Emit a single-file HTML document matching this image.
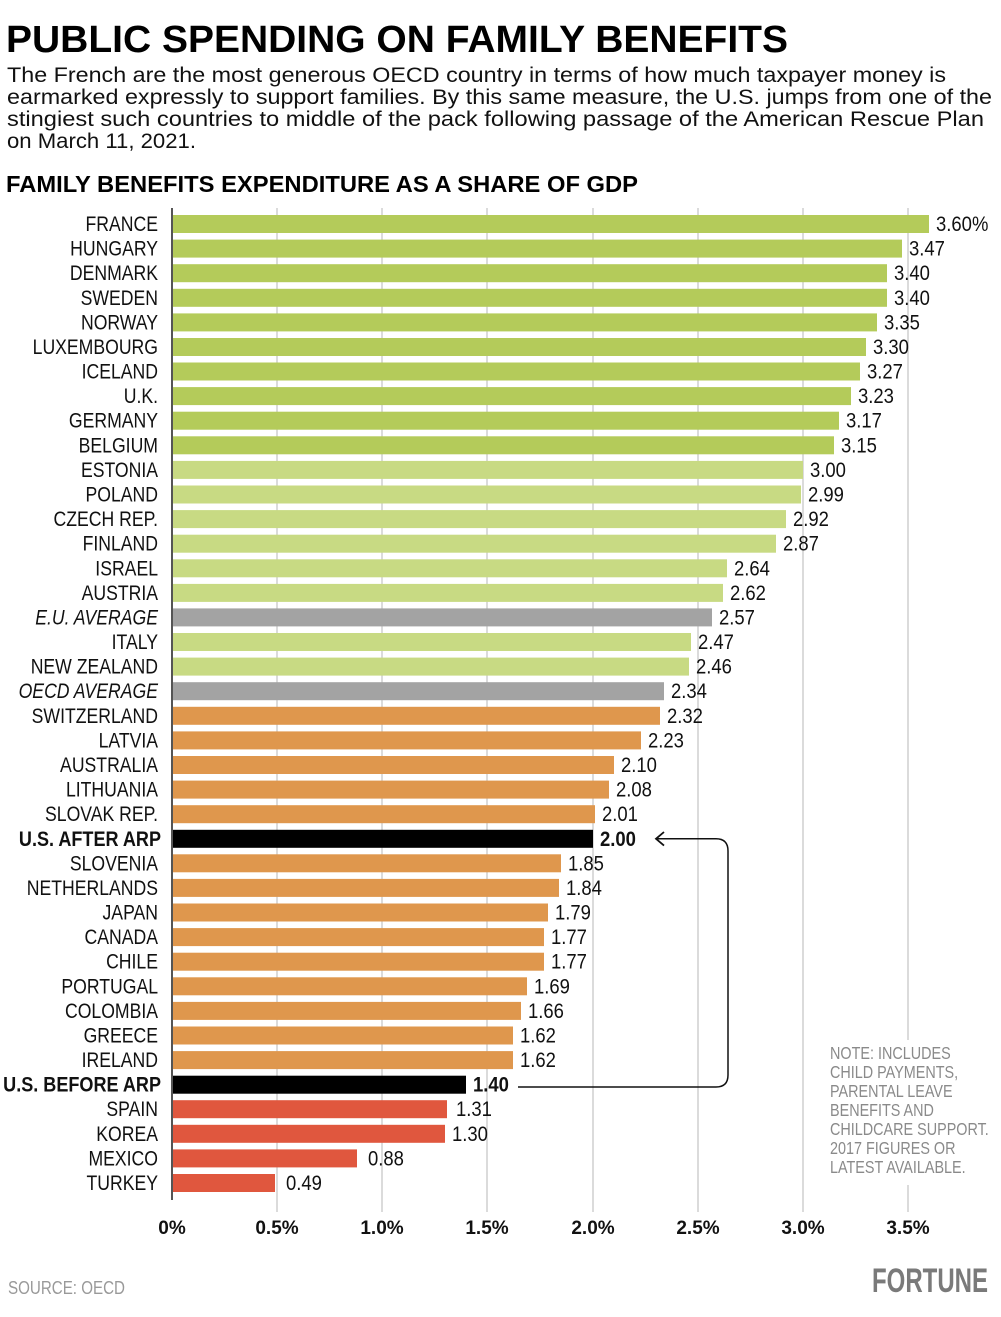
<!DOCTYPE html>
<html><head><meta charset="utf-8"><style>
body{margin:0;background:#fff}
svg{display:block}
.l{font-family:"Liberation Sans",sans-serif;font-size:21px;fill:#111;text-anchor:end}
.v{font-family:"Liberation Sans",sans-serif;font-size:21px;fill:#111}
.it{font-style:italic}
.b{font-weight:bold}
.dg{fill:#b4cb5a}.lg{fill:#c8da83}.gr{fill:#a3a3a3}.or{fill:#df974d}.bk{fill:#000}.rd{fill:#e0573e}
</style></head><body>
<svg width="1001" height="1317" viewBox="0 0 1001 1317" xmlns="http://www.w3.org/2000/svg">
<text x="6" y="52" font-family="Liberation Sans" font-weight="bold" font-size="38" textLength="782" lengthAdjust="spacingAndGlyphs">PUBLIC SPENDING ON FAMILY BENEFITS</text>
<g font-family="Liberation Sans" font-size="21" fill="#111">
<text x="7" y="82" textLength="939" lengthAdjust="spacingAndGlyphs">The French are the most generous OECD country in terms of how much taxpayer money is</text>
<text x="7" y="104" textLength="985" lengthAdjust="spacingAndGlyphs">earmarked expressly to support families. By this same measure, the U.S. jumps from one of the</text>
<text x="7" y="126" textLength="977" lengthAdjust="spacingAndGlyphs">stingiest such countries to middle of the pack following passage of the American Rescue Plan</text>
<text x="7" y="148" textLength="189" lengthAdjust="spacingAndGlyphs">on March 11, 2021.</text>
</g>
<text x="6" y="192" font-family="Liberation Sans" font-weight="bold" font-size="23" textLength="632" lengthAdjust="spacingAndGlyphs">FAMILY BENEFITS EXPENDITURE AS A SHARE OF GDP</text>
<g stroke="#cfcfcf" stroke-width="1.5">
<line x1="277" y1="208" x2="277" y2="1212"/><line x1="382" y1="208" x2="382" y2="1212"/><line x1="487" y1="208" x2="487" y2="1212"/><line x1="593" y1="208" x2="593" y2="1212"/><line x1="698" y1="208" x2="698" y2="1212"/><line x1="803" y1="208" x2="803" y2="1212"/><line x1="908" y1="208" x2="908" y2="1040"/><line x1="908" y1="1185" x2="908" y2="1212"/>
</g>
<g>
<g transform="translate(0,224)"><rect x="172" y="-9" width="757" height="18" class="dg"/><text transform="translate(158 7) scale(0.84 1)" class="l">FRANCE</text><text transform="translate(936 7) scale(0.88 1)" class="v">3.60%</text></g>
<g transform="translate(0,248.6)"><rect x="172" y="-9" width="730" height="18" class="dg"/><text transform="translate(158 7) scale(0.84 1)" class="l">HUNGARY</text><text transform="translate(909 7) scale(0.88 1)" class="v">3.47</text></g>
<g transform="translate(0,273.2)"><rect x="172" y="-9" width="715" height="18" class="dg"/><text transform="translate(158 7) scale(0.84 1)" class="l">DENMARK</text><text transform="translate(894 7) scale(0.88 1)" class="v">3.40</text></g>
<g transform="translate(0,297.8)"><rect x="172" y="-9" width="715" height="18" class="dg"/><text transform="translate(158 7) scale(0.84 1)" class="l">SWEDEN</text><text transform="translate(894 7) scale(0.88 1)" class="v">3.40</text></g>
<g transform="translate(0,322.4)"><rect x="172" y="-9" width="705" height="18" class="dg"/><text transform="translate(158 7) scale(0.84 1)" class="l">NORWAY</text><text transform="translate(884 7) scale(0.88 1)" class="v">3.35</text></g>
<g transform="translate(0,347)"><rect x="172" y="-9" width="694" height="18" class="dg"/><text transform="translate(158 7) scale(0.84 1)" class="l">LUXEMBOURG</text><text transform="translate(873 7) scale(0.88 1)" class="v">3.30</text></g>
<g transform="translate(0,371.5)"><rect x="172" y="-9" width="688" height="18" class="dg"/><text transform="translate(158 7) scale(0.84 1)" class="l">ICELAND</text><text transform="translate(867 7) scale(0.88 1)" class="v">3.27</text></g>
<g transform="translate(0,396.1)"><rect x="172" y="-9" width="679" height="18" class="dg"/><text transform="translate(158 7) scale(0.84 1)" class="l">U.K.</text><text transform="translate(858 7) scale(0.88 1)" class="v">3.23</text></g>
<g transform="translate(0,420.7)"><rect x="172" y="-9" width="667" height="18" class="dg"/><text transform="translate(158 7) scale(0.84 1)" class="l">GERMANY</text><text transform="translate(846 7) scale(0.88 1)" class="v">3.17</text></g>
<g transform="translate(0,445.3)"><rect x="172" y="-9" width="662" height="18" class="dg"/><text transform="translate(158 7) scale(0.84 1)" class="l">BELGIUM</text><text transform="translate(841 7) scale(0.88 1)" class="v">3.15</text></g>
<g transform="translate(0,469.9)"><rect x="172" y="-9" width="631" height="18" class="lg"/><text transform="translate(158 7) scale(0.84 1)" class="l">ESTONIA</text><text transform="translate(810 7) scale(0.88 1)" class="v">3.00</text></g>
<g transform="translate(0,494.5)"><rect x="172" y="-9" width="629" height="18" class="lg"/><text transform="translate(158 7) scale(0.84 1)" class="l">POLAND</text><text transform="translate(808 7) scale(0.88 1)" class="v">2.99</text></g>
<g transform="translate(0,519.1)"><rect x="172" y="-9" width="614" height="18" class="lg"/><text transform="translate(158 7) scale(0.84 1)" class="l">CZECH REP.</text><text transform="translate(793 7) scale(0.88 1)" class="v">2.92</text></g>
<g transform="translate(0,543.7)"><rect x="172" y="-9" width="604" height="18" class="lg"/><text transform="translate(158 7) scale(0.84 1)" class="l">FINLAND</text><text transform="translate(783 7) scale(0.88 1)" class="v">2.87</text></g>
<g transform="translate(0,568.3)"><rect x="172" y="-9" width="555" height="18" class="lg"/><text transform="translate(158 7) scale(0.84 1)" class="l">ISRAEL</text><text transform="translate(734 7) scale(0.88 1)" class="v">2.64</text></g>
<g transform="translate(0,592.9)"><rect x="172" y="-9" width="551" height="18" class="lg"/><text transform="translate(158 7) scale(0.84 1)" class="l">AUSTRIA</text><text transform="translate(730 7) scale(0.88 1)" class="v">2.62</text></g>
<g transform="translate(0,617.4)"><rect x="172" y="-9" width="540" height="18" class="gr"/><text transform="translate(158 7) scale(0.84 1)" class="l it">E.U. AVERAGE</text><text transform="translate(719 7) scale(0.88 1)" class="v">2.57</text></g>
<g transform="translate(0,642)"><rect x="172" y="-9" width="519" height="18" class="lg"/><text transform="translate(158 7) scale(0.84 1)" class="l">ITALY</text><text transform="translate(698 7) scale(0.88 1)" class="v">2.47</text></g>
<g transform="translate(0,666.6)"><rect x="172" y="-9" width="517" height="18" class="lg"/><text transform="translate(158 7) scale(0.84 1)" class="l">NEW ZEALAND</text><text transform="translate(696 7) scale(0.88 1)" class="v">2.46</text></g>
<g transform="translate(0,691.2)"><rect x="172" y="-9" width="492" height="18" class="gr"/><text transform="translate(158 7) scale(0.84 1)" class="l it">OECD AVERAGE</text><text transform="translate(671 7) scale(0.88 1)" class="v">2.34</text></g>
<g transform="translate(0,715.8)"><rect x="172" y="-9" width="488" height="18" class="or"/><text transform="translate(158 7) scale(0.84 1)" class="l">SWITZERLAND</text><text transform="translate(667 7) scale(0.88 1)" class="v">2.32</text></g>
<g transform="translate(0,740.4)"><rect x="172" y="-9" width="469" height="18" class="or"/><text transform="translate(158 7) scale(0.84 1)" class="l">LATVIA</text><text transform="translate(648 7) scale(0.88 1)" class="v">2.23</text></g>
<g transform="translate(0,765)"><rect x="172" y="-9" width="442" height="18" class="or"/><text transform="translate(158 7) scale(0.84 1)" class="l">AUSTRALIA</text><text transform="translate(621 7) scale(0.88 1)" class="v">2.10</text></g>
<g transform="translate(0,789.6)"><rect x="172" y="-9" width="437" height="18" class="or"/><text transform="translate(158 7) scale(0.84 1)" class="l">LITHUANIA</text><text transform="translate(616 7) scale(0.88 1)" class="v">2.08</text></g>
<g transform="translate(0,814.2)"><rect x="172" y="-9" width="423" height="18" class="or"/><text transform="translate(158 7) scale(0.84 1)" class="l">SLOVAK REP.</text><text transform="translate(602 7) scale(0.88 1)" class="v">2.01</text></g>
<g transform="translate(0,838.8)"><rect x="172" y="-9" width="421" height="18" class="bk"/><text transform="translate(161 7) scale(0.86 1)" class="l b">U.S. AFTER ARP</text><text transform="translate(600 7) scale(0.88 1)" class="v b">2.00</text></g>
<g transform="translate(0,863.3)"><rect x="172" y="-9" width="389" height="18" class="or"/><text transform="translate(158 7) scale(0.84 1)" class="l">SLOVENIA</text><text transform="translate(568 7) scale(0.88 1)" class="v">1.85</text></g>
<g transform="translate(0,887.9)"><rect x="172" y="-9" width="387" height="18" class="or"/><text transform="translate(158 7) scale(0.84 1)" class="l">NETHERLANDS</text><text transform="translate(566 7) scale(0.88 1)" class="v">1.84</text></g>
<g transform="translate(0,912.5)"><rect x="172" y="-9" width="376" height="18" class="or"/><text transform="translate(158 7) scale(0.84 1)" class="l">JAPAN</text><text transform="translate(555 7) scale(0.88 1)" class="v">1.79</text></g>
<g transform="translate(0,937.1)"><rect x="172" y="-9" width="372" height="18" class="or"/><text transform="translate(158 7) scale(0.84 1)" class="l">CANADA</text><text transform="translate(551 7) scale(0.88 1)" class="v">1.77</text></g>
<g transform="translate(0,961.7)"><rect x="172" y="-9" width="372" height="18" class="or"/><text transform="translate(158 7) scale(0.84 1)" class="l">CHILE</text><text transform="translate(551 7) scale(0.88 1)" class="v">1.77</text></g>
<g transform="translate(0,986.3)"><rect x="172" y="-9" width="355" height="18" class="or"/><text transform="translate(158 7) scale(0.84 1)" class="l">PORTUGAL</text><text transform="translate(534 7) scale(0.88 1)" class="v">1.69</text></g>
<g transform="translate(0,1010.9)"><rect x="172" y="-9" width="349" height="18" class="or"/><text transform="translate(158 7) scale(0.84 1)" class="l">COLOMBIA</text><text transform="translate(528 7) scale(0.88 1)" class="v">1.66</text></g>
<g transform="translate(0,1035.5)"><rect x="172" y="-9" width="341" height="18" class="or"/><text transform="translate(158 7) scale(0.84 1)" class="l">GREECE</text><text transform="translate(520 7) scale(0.88 1)" class="v">1.62</text></g>
<g transform="translate(0,1060.1)"><rect x="172" y="-9" width="341" height="18" class="or"/><text transform="translate(158 7) scale(0.84 1)" class="l">IRELAND</text><text transform="translate(520 7) scale(0.88 1)" class="v">1.62</text></g>
<g transform="translate(0,1084.7)"><rect x="172" y="-9" width="294" height="18" class="bk"/><text transform="translate(161 7) scale(0.86 1)" class="l b">U.S. BEFORE ARP</text><text transform="translate(473 7) scale(0.88 1)" class="v b">1.40</text></g>
<g transform="translate(0,1109.2)"><rect x="172" y="-9" width="275" height="18" class="rd"/><text transform="translate(158 7) scale(0.84 1)" class="l">SPAIN</text><text transform="translate(456 7) scale(0.88 1)" class="v">1.31</text></g>
<g transform="translate(0,1133.8)"><rect x="172" y="-9" width="273" height="18" class="rd"/><text transform="translate(158 7) scale(0.84 1)" class="l">KOREA</text><text transform="translate(452 7) scale(0.88 1)" class="v">1.30</text></g>
<g transform="translate(0,1158.4)"><rect x="172" y="-9" width="185" height="18" class="rd"/><text transform="translate(158 7) scale(0.84 1)" class="l">MEXICO</text><text transform="translate(368 7) scale(0.88 1)" class="v">0.88</text></g>
<g transform="translate(0,1183)"><rect x="172" y="-9" width="103" height="18" class="rd"/><text transform="translate(158 7) scale(0.84 1)" class="l">TURKEY</text><text transform="translate(286 7) scale(0.88 1)" class="v">0.49</text></g>
</g>
<line x1="172" y1="208" x2="172" y2="1200" stroke="#555" stroke-width="2"/>
<path d="M656 838.8 H716 Q728 838.8 728 851 V1075 Q728 1087 716 1087 H518" fill="none" stroke="#111" stroke-width="1.5"/>
<path d="M664 832 L656 838.8 L664 845.6" fill="none" stroke="#111" stroke-width="1.8"/>
<g font-family="Liberation Sans" font-weight="bold" font-size="19" fill="#111" text-anchor="middle">
<text x="172" y="1234">0%</text><text x="277" y="1234">0.5%</text><text x="382" y="1234">1.0%</text><text x="487" y="1234">1.5%</text><text x="593" y="1234">2.0%</text><text x="698" y="1234">2.5%</text><text x="803" y="1234">3.0%</text><text x="908" y="1234">3.5%</text>
</g>
<g transform="translate(830 0) scale(0.8 1)" font-family="Liberation Sans, sans-serif" font-size="18" fill="#8a8a8a">
<text x="0" y="1059">NOTE: INCLUDES</text>
<text x="0" y="1078">CHILD PAYMENTS,</text>
<text x="0" y="1097">PARENTAL LEAVE</text>
<text x="0" y="1116">BENEFITS AND</text>
<text x="0" y="1135">CHILDCARE SUPPORT.</text>
<text x="0" y="1154">2017 FIGURES OR</text>
<text x="0" y="1173">LATEST AVAILABLE.</text>
</g>
<text x="8" y="1294" font-family="Liberation Sans, sans-serif" font-size="18" fill="#999" textLength="117" lengthAdjust="spacingAndGlyphs">SOURCE: OECD</text>
<text x="872" y="1292" font-family="Liberation Sans, sans-serif" font-weight="bold" font-size="34" fill="#7a7a7a" textLength="116" lengthAdjust="spacingAndGlyphs">FORTUNE</text>
</svg>
</body></html>
